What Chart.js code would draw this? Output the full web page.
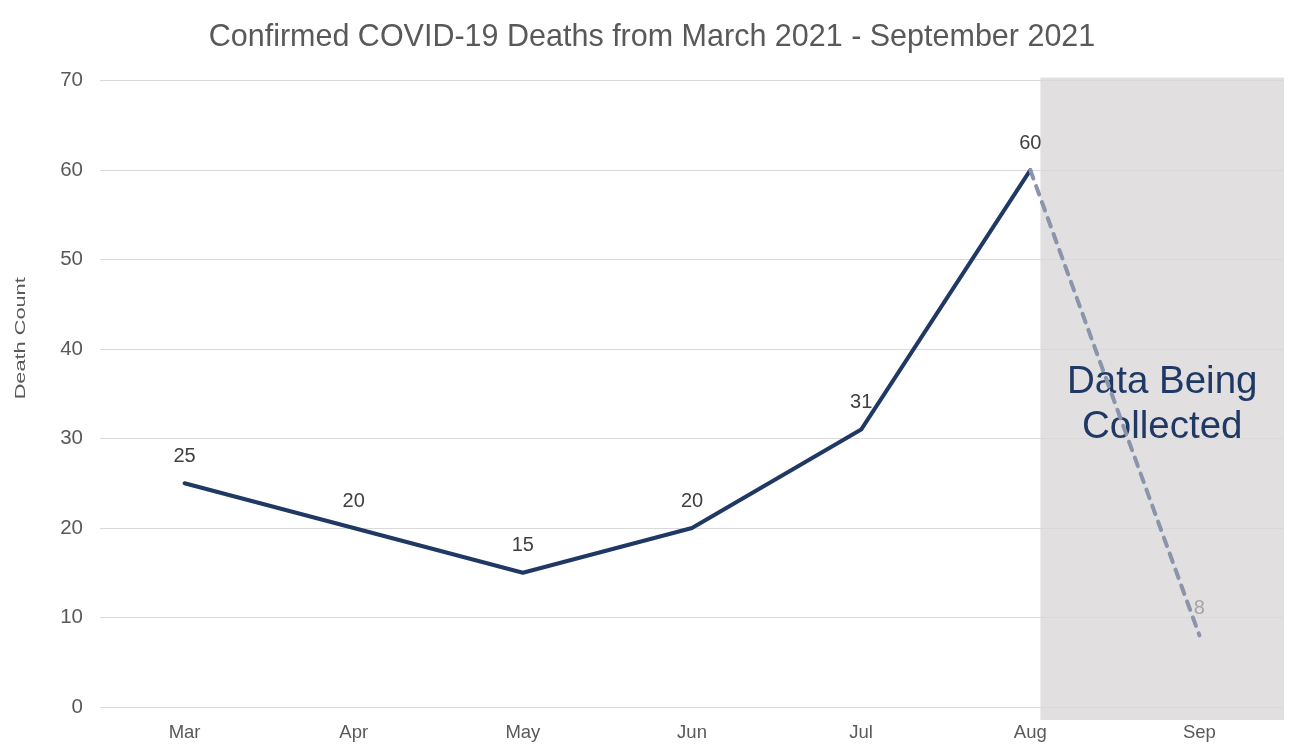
<!DOCTYPE html>
<html>
<head>
<meta charset="utf-8">
<script src="https://cdn.jsdelivr.net/npm/chart.js@4"></script>
<style>
  html, body { margin: 0; padding: 0; background: #fff; }
  #wrap { width: 1289px; height: 751px; }
</style>
</head>
<body>
<div id="wrap"><canvas id="deaths"></canvas></div>
<script>
// data
const months = ['Mar', 'Apr', 'May', 'Jun', 'Jul', 'Aug', 'Sep'];
const deaths = [25, 20, 15, 20, 31, 60, 8];
const yTicks = [0, 10, 20, 30, 40, 50, 60, 70];
const shadeFrom = 'Aug';  // month after which the data is still coming in
const shadeText = ['Data Being', 'Collected'];
const yTitle = 'Death Count';

const font = 'Liberation Sans, Arial, sans-serif';
const navy = '#1F3864';
const pending = '#8A94AA';

function shadeLeft(chart) {
    const x = chart.scales.x;
    const i = months.indexOf(shadeFrom);
    return x.getPixelForValue(i) + 0.06 * (x.getPixelForValue(i + 1) - x.getPixelForValue(i));
}

// grey box behind the still-incomplete months
let shadeBox = {
    id: 'shadeBox',
    beforeDraw(chart) {
        const {ctx, chartArea} = chart;
        const x0 = shadeLeft(chart);
        ctx.save();
        ctx.fillStyle = '#E1DFE0';
        ctx.fillRect(x0, chartArea.top - 3, chartArea.right - x0, chartArea.bottom - chartArea.top + 16);
        ctx.restore();
    },
    beforeDatasetsDraw(chart) {
        const {ctx, chartArea} = chart;
        const y = chart.scales.y;
        const cx = (shadeLeft(chart) + chartArea.right) / 2;
        ctx.save();
        ctx.font = '38.5px ' + font;
        ctx.fillStyle = navy;
        ctx.textAlign = 'center';
        ctx.textBaseline = 'middle';
        ctx.fillText(shadeText[0], cx, y.getPixelForValue(36.3));
        ctx.fillText(shadeText[1], cx, y.getPixelForValue(31.3));
        ctx.restore();
    }
};

// value labels above each point + the (stretched) y axis title
let pointLabels = {
    id: 'pointLabels',
    afterDatasetsDraw(chart) {
        const ctx = chart.ctx;
        const meta = chart.getDatasetMeta(0);
        ctx.save();
        ctx.font = '20px ' + font;
        ctx.textAlign = 'center';
        ctx.textBaseline = 'middle';
        meta.data.forEach(function (pt, k) {
            ctx.fillStyle = k == deaths.length - 1 ? '#A6A6A6' : '#404040';
            ctx.fillText(String(deaths[k]), pt.x, pt.y - 27);
        });
        ctx.restore();
    },
    afterDraw(chart) {
        const ctx = chart.ctx;
        const y = chart.scales.y;
        ctx.save();
        ctx.font = '14.5px ' + font;
        ctx.fillStyle = '#595959';
        ctx.textAlign = 'center';
        ctx.textBaseline = 'middle';
        ctx.translate(21, y.getPixelForValue(41.2));
        ctx.rotate(-Math.PI / 2);
        ctx.scale(122 / ctx.measureText(yTitle).width, 1);
        ctx.fillText(yTitle, 0, 0);
        ctx.restore();
    }
};

let deathChart = new Chart(document.getElementById('deaths'), {
    type: 'line',
    data: {
        labels: months,
        datasets: [{
            label: 'Deaths',
            data: deaths,
            borderColor: navy,
            borderWidth: 4,
            borderCapStyle: 'round',
            borderJoinStyle: 'round',
            pointRadius: 0,
            tension: 0,
            segment: {
                borderColor: ctx => ctx.p0DataIndex >= months.indexOf(shadeFrom) ? pending : undefined,
                borderDash: ctx => ctx.p0DataIndex >= months.indexOf(shadeFrom) ? [9, 8] : undefined
            }
        }]
    },
    options: {
        responsive: true,
        maintainAspectRatio: false,
        animation: false,
        layout: { padding: { left: 20, right: 5, top: 0, bottom: 8 } },
        plugins: {
            legend: { display: false },
            tooltip: { enabled: false },
            title: {
                display: true,
                text: 'Confirmed COVID-19 Deaths from March 2021 - September 2021',
                color: '#595959',
                font: { family: font, size: 30.5, weight: 'normal' },
                padding: { top: 19, bottom: 25 }
            }
        },
        scales: {
            x: {
                offset: true,
                grid: { display: false, drawTicks: false },
                border: { display: false },
                afterFit: function (s) { s.height = 36; },
                ticks: {
                    color: '#595959',
                    font: { family: font, size: 18.5 },
                    padding: 15,
                    maxRotation: 0
                }
            },
            y: {
                min: yTicks[0],
                max: yTicks[yTicks.length - 1],
                afterBuildTicks: function (s) { s.ticks = yTicks.map(v => ({ value: v })); },
                afterFit: function (s) { s.width = 80; },
                grid: { color: '#D9D9D9', lineWidth: 1, drawTicks: false },
                border: { display: false },
                ticks: {
                    color: '#595959',
                    font: { family: font, size: 20.5 },
                    padding: 17
                }
            }
        }
    },
    plugins: [shadeBox, pointLabels]
});
</script>
</body>
</html>
